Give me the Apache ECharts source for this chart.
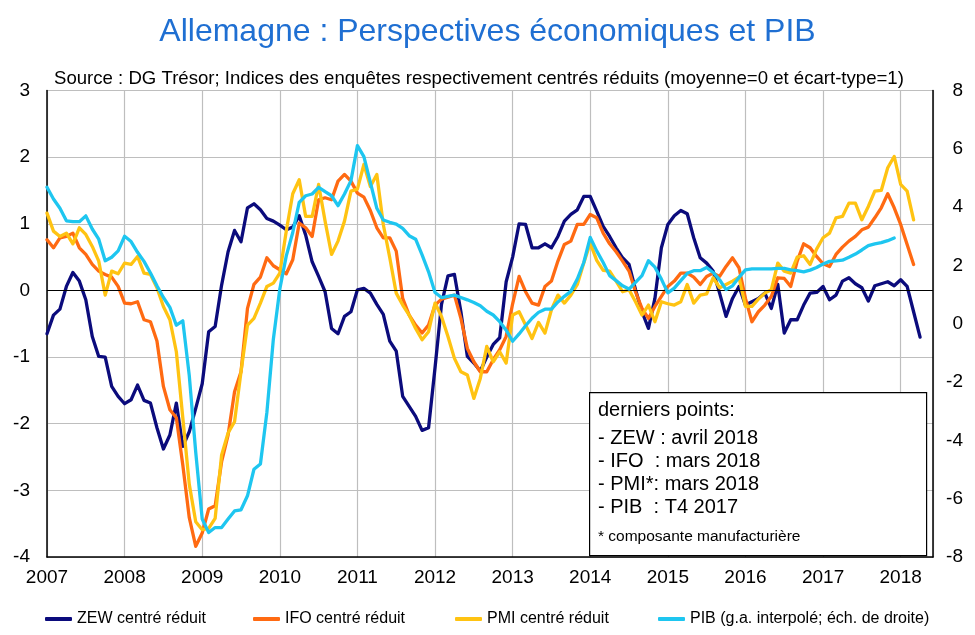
<!DOCTYPE html>
<html>
<head>
<meta charset="utf-8">
<script src="https://cdn.jsdelivr.net/npm/echarts@6/dist/echarts.min.js"></script>
<style>
html,body{margin:0;padding:0;background:#fff;}
#c{width:975px;height:635px;}
</style>
</head>
<body>
<div id="c"></div>
<script>
// Monthly data, starting January 2007
const startYear = 2007;
const yearLabels = ['2007','2008','2009','2010','2011','2012','2013','2014','2015','2016','2017','2018'];

const zew = [
 -0.65,-0.37,-0.28,0.06,0.27,0.14,-0.14,-0.69,-0.99,-1.0,-1.44,-1.59,
 -1.7,-1.64,-1.42,-1.65,-1.69,-2.06,-2.38,-2.17,-1.69,-2.34,-2.12,-1.77,
 -1.4,-0.62,-0.54,0.08,0.58,0.9,0.73,1.24,1.3,1.21,1.08,1.04,
 0.98,0.91,0.95,1.12,0.83,0.43,0.21,-0.02,-0.57,-0.65,-0.39,-0.32,
 0.01,0.03,-0.04,-0.21,-0.36,-0.76,-0.91,-1.59,-1.74,-1.89,-2.1,-2.06,
 -1.16,-0.21,0.22,0.24,-0.32,-0.99,-1.09,-1.21,-1.0,-0.81,-0.71,0.13,
 0.5,1.0,0.99,0.64,0.64,0.7,0.64,0.81,1.04,1.14,1.21,1.41,
 1.41,1.19,0.96,0.81,0.64,0.49,0.39,0.01,-0.32,-0.57,-0.12,0.64,
 0.99,1.12,1.2,1.15,0.79,0.49,0.41,0.29,-0.04,-0.39,-0.12,0.06,
 -0.22,-0.17,-0.12,-0.04,-0.27,0.09,-0.64,-0.44,-0.44,-0.22,-0.04,-0.03,
 0.06,-0.14,-0.07,0.14,0.19,0.1,0.04,-0.16,0.07,0.1,0.13,0.07,
 0.16,0.06,-0.32,-0.7
];
const ifo = [
 0.76,0.64,0.79,0.81,0.86,0.64,0.54,0.39,0.29,0.24,0.2,0.06,
 -0.19,-0.2,-0.17,-0.44,-0.47,-0.76,-1.44,-1.79,-1.91,-2.62,-3.41,-3.84,
 -3.64,-3.28,-3.23,-2.57,-2.17,-1.52,-1.22,-0.27,0.09,0.2,0.49,0.37,
 0.31,0.25,0.46,1.01,0.94,0.81,1.36,1.39,1.36,1.64,1.74,1.64,
 1.46,1.4,1.2,0.94,0.79,0.79,0.59,-0.12,-0.37,-0.52,-0.64,-0.52,
 -0.22,-0.13,-0.1,-0.07,-0.42,-0.87,-1.07,-1.22,-1.22,-1.04,-0.89,-0.69,
 -0.2,0.21,-0.02,-0.19,-0.22,0.06,0.14,0.44,0.69,0.74,0.99,0.99,
 1.14,1.09,0.86,0.7,0.58,0.44,0.29,-0.02,-0.27,-0.42,-0.24,-0.09,
 0.06,0.14,0.26,0.26,0.2,0.09,0.21,0.26,0.21,0.36,0.49,0.34,
 -0.12,-0.47,-0.32,-0.22,-0.09,0.19,0.18,0.06,0.44,0.7,0.64,0.51,
 0.4,0.36,0.54,0.65,0.74,0.81,0.91,0.95,1.09,1.24,1.45,1.24,
 0.99,0.69,0.39
];
const pmi = [
 1.16,0.89,0.81,0.86,0.7,0.94,0.84,0.66,0.44,-0.07,0.29,0.25,
 0.41,0.39,0.51,0.26,0.24,0.04,-0.24,-0.44,-0.92,-1.91,-2.91,-3.47,
 -3.59,-3.57,-3.42,-2.47,-2.14,-1.97,-1.22,-0.52,-0.42,-0.19,0.06,0.11,
 0.26,0.89,1.45,1.66,1.11,1.11,1.59,1.04,0.54,0.74,1.04,1.49,
 1.52,1.89,1.56,1.74,0.99,0.49,-0.04,-0.22,-0.37,-0.57,-0.74,-0.62,
 -0.19,-0.39,-0.69,-1.02,-1.22,-1.27,-1.62,-1.32,-0.84,-1.07,-0.92,-1.09,
 -0.37,-0.32,-0.52,-0.72,-0.48,-0.64,-0.29,-0.07,-0.19,-0.07,0.09,0.41,
 0.71,0.45,0.3,0.29,0.14,-0.02,0.01,-0.17,-0.37,-0.22,-0.47,-0.17,
 -0.2,-0.22,-0.17,0.09,-0.19,-0.07,-0.05,0.19,0.04,0.09,0.14,0.2,
 -0.24,-0.24,-0.13,-0.04,0.01,0.41,0.29,0.26,0.5,0.52,0.39,0.62,
 0.79,0.86,1.09,1.11,1.31,1.31,1.06,1.26,1.49,1.5,1.84,2.01,
 1.59,1.49,1.06
];
// PIB: glissement annuel interpolé (right axis)
const pib = [
 4.68,4.28,3.96,3.53,3.5,3.5,3.7,3.25,2.9,2.16,2.28,2.5,
 3.0,2.82,2.45,2.14,1.74,1.3,0.9,0.56,-0.05,0.1,-1.78,-4.41,
 -6.7,-7.16,-6.99,-6.99,-6.7,-6.42,-6.38,-5.9,-4.99,-4.81,-3.04,-0.53,
 1.19,2.33,3.13,4.16,4.39,4.45,4.68,4.53,4.39,4.05,4.45,4.91,
 6.11,5.73,4.85,3.96,3.56,3.48,3.42,3.27,3.02,2.9,2.36,1.78,
 1.07,0.9,0.94,0.98,0.9,0.82,0.73,0.62,0.43,0.3,0.07,-0.22,
 -0.6,-0.35,-0.07,0.19,0.39,0.5,0.5,0.75,0.94,1.11,1.53,2.1,
 2.96,2.5,2.1,1.65,1.48,1.3,1.19,1.42,1.65,2.16,1.94,1.53,
 1.06,1.22,1.48,1.73,1.82,1.82,1.93,1.76,1.51,1.17,1.3,1.59,
 1.85,1.88,1.88,1.88,1.88,1.9,1.9,1.85,1.82,1.78,1.84,1.93,
 2.05,2.14,2.16,2.18,2.28,2.39,2.53,2.68,2.74,2.78,2.85,2.94
];

const seriesNames = ['ZEW centré réduit','IFO centré réduit','PMI centré réduit','PIB (g.a. interpolé; éch. de droite)'];
const seriesColors = ['#0B0B7C','#FF6A12','#FFC312','#1EC6F0'];
const noteLines = ['derniers points:','- ZEW : avril 2018','- IFO  : mars 2018','- PMI*: mars 2018','- PIB  : T4 2017'];
const noteFootnote = '* composante manufacturière';

const toPairs = arr => arr.map((v,i)=>[i,v]);
const FONT = 'Liberation Sans, Arial, sans-serif';

const chart = echarts.init(document.getElementById('c'), null, {renderer:'canvas'});

const legendLefts = [40, 248, 450, 653];
const legends = seriesNames.map((n,i)=>({
  data:[n], left: legendLefts[i], top: 606, orient:'horizontal',
  icon:'roundRect', itemWidth:27, itemHeight:4, itemGap:4,
  textStyle:{fontFamily:FONT, fontSize:16, color:'#000'}
}));

const baseLine = (name, data, color, yIdx, z) => ({
  name, type:'line', data: toPairs(data), yAxisIndex: yIdx,
  showSymbol:false, symbol:'none', smooth:false, z,
  lineStyle:{color, width:3.3, join:'round', cap:'round'},
  itemStyle:{color}, animation:false
});

const zewSeries = baseLine(seriesNames[0], zew, seriesColors[0], 0, 2);
zewSeries.markLine = {
  silent:true, symbol:['none','none'], label:{show:false},
  lineStyle:{color:'#000', width:1.2, type:'solid'},
  data:[{yAxis:0}], animation:false
};

const noteTops = [400, 428, 451, 474, 497];
const noteGraphics = noteLines.map((t,i)=>({
  type:'text', left:598, top:noteTops[i], z:110,
  style:{text:t, font:'20px '+FONT, fill:'#000'}
}));
noteGraphics.push({
  type:'text', left:598, top:529, z:110,
  style:{text:noteFootnote, font:'15.5px '+FONT, fill:'#000'}
});

const option = {
  backgroundColor:'#fff',
  animation:false,
  title:[{
    text:'Allemagne : Perspectives économiques et PIB',
    left:'center', top:11,
    textStyle:{fontFamily:FONT, fontSize:32, fontWeight:'normal', color:'#1F6FD2'}
  },{
    text:'Source : DG Trésor; Indices des enquêtes respectivement centrés réduits (moyenne=0 et écart-type=1)',
    left:49, top:64,
    textStyle:{fontFamily:FONT, fontSize:18.6, fontWeight:'normal', color:'#000'}
  }],
  legend: legends,
  grid:{left:47, right:42, top:90.5, bottom:78, containLabel:false},
  xAxis:{
    type:'value', min:0, max:137, interval:12,
    axisLine:{show:true, onZero:false, lineStyle:{color:'#000', width:1.5}},
    axisTick:{show:false},
    splitLine:{show:true, lineStyle:{color:'#BEBEBE', width:1.2}},
    axisLabel:{
      showMaxLabel:false, margin:11,
      fontFamily:FONT, fontSize:19, color:'#000',
      formatter: v => yearLabels[Math.round(v/12)] || ''
    }
  },
  yAxis:[{
    type:'value', min:-4, max:3, interval:1, position:'left',
    axisLine:{show:true, lineStyle:{color:'#000', width:1.5}},
    axisTick:{show:false},
    splitLine:{show:true, lineStyle:{color:'#BEBEBE', width:1.2}},
    axisLabel:{fontFamily:FONT, fontSize:19, color:'#000', margin:17}
  },{
    type:'value', min:-8, max:8, interval:2, position:'right',
    axisLine:{show:true, lineStyle:{color:'#000', width:1.5}},
    axisTick:{show:false},
    splitLine:{show:false},
    axisLabel:{fontFamily:FONT, fontSize:19, color:'#000', margin:30, align:'right'}
  }],
  series:[
    zewSeries,
    baseLine(seriesNames[1], ifo, seriesColors[1], 0, 3),
    baseLine(seriesNames[2], pmi, seriesColors[2], 0, 4),
    baseLine(seriesNames[3], pib, seriesColors[3], 1, 5)
  ],
  graphic:[{
    type:'rect', left:589, top:392, z:100,
    shape:{width:337, height:163},
    style:{fill:'#fff', stroke:'#000', lineWidth:1.2}
  }].concat(noteGraphics)
};
chart.setOption(option);
</script>
</body>
</html>
